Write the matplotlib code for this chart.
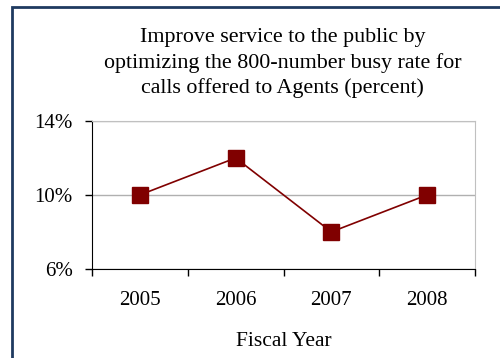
import matplotlib.pyplot as plt
from matplotlib.patches import Rectangle
from matplotlib.ticker import FixedLocator

years = ['2005', '2006', '2007', '2008']
busy_rate = [10, 12, 8, 10]
yticks = [6, 10, 14]

plt.rcParams['font.family'] = ['Liberation Serif', 'DejaVu Serif']

fig = plt.figure(figsize=(5, 3.58), dpi=100)
ax = fig.add_axes([0.184, 0.249, 0.766, 0.413])

x = range(len(years))
ax.plot(x, busy_rate, color='#800000', lw=1.2, marker='s', ms=12,
        markerfacecolor='#800000', markeredgecolor='#800000', zorder=3)

ax.set_xlim(-0.5, len(years) - 0.5)
ax.set_ylim(6, 14)
ax.set_yticks(yticks)
ax.set_yticklabels([f'{v}%' for v in yticks], fontsize=15)
ax.set_xticks(list(x))
ax.set_xticklabels(years, fontsize=15)
ax.xaxis.set_minor_locator(FixedLocator([i - 0.5 for i in range(len(years) + 1)]))
ax.tick_params(axis='x', which='major', length=0, pad=16)
ax.tick_params(axis='x', which='minor', length=5, width=1, direction='out')
ax.tick_params(axis='y', length=5, width=1, direction='out', pad=9)

ax.grid(axis='y', color='#b0b0b0', lw=1)
ax.set_axisbelow(True)
for side in ['top', 'right']:
    ax.spines[side].set_color('#c0c0c0')
for side in ['left', 'bottom']:
    ax.spines[side].set_color('black')

ax.set_xlabel('Fiscal Year', fontsize=15.5, labelpad=16)
fig.text(0.565, 0.824, 'Improve service to the public by\n'
         'optimizing the 800-number busy rate for\n'
         'calls offered to Agents (percent)',
         ha='center', va='center', fontsize=15.8, linespacing=1.38)

# outer frame, running off the right and bottom edges
fig.patches.append(Rectangle((0.023, -0.05), 1.2, 1.03, transform=fig.transFigure,
                             fill=False, edgecolor='#1f3a60', lw=2))

fig.savefig('out.png', dpi=100)
